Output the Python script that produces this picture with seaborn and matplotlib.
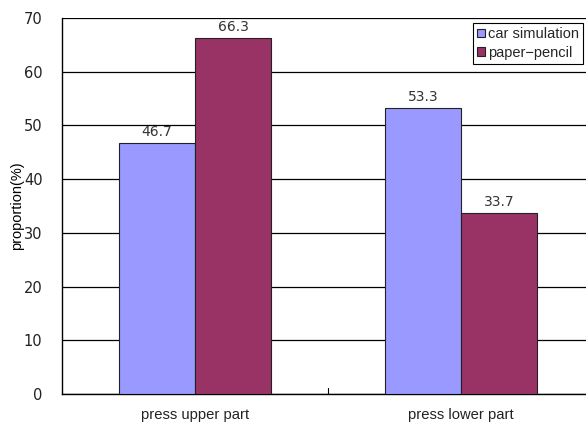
import matplotlib
matplotlib.use("Agg")
import matplotlib.pyplot as plt
import seaborn as sns
import pandas as pd

categories = ["press upper part", "press lower part"]
series = ["car simulation", "paper\u2212pencil"]
car_simulation = [46.7, 53.3]
paper_pencil = [66.3, 33.7]
yticks = [0, 10, 20, 30, 40, 50, 60, 70]

df = pd.DataFrame({
    "category": categories * 2,
    "group": [series[0]] * 2 + [series[1]] * 2,
    "value": car_simulation + paper_pencil,
})

sns.set_style("white")
plt.rcParams["font.family"] = ["Liberation Sans", "DejaVu Sans"]

fig = plt.figure(figsize=(5.86, 4.23), dpi=100)
ax = fig.add_axes([62 / 586, 29 / 423, 532 / 586, 376 / 423])

palette = ["#9999FF", "#993366"]
sns.barplot(data=df, x="category", y="value", hue="group", order=categories,
            hue_order=series, palette=palette, width=0.572, saturation=1,
            edgecolor="#222222", linewidth=0.8, ax=ax, zorder=3)

ax.set_ylim(0, 70)
ax.set_xlim(-0.5, 1.5)
ax.set_yticks(yticks)
ax.set_yticklabels([str(t) for t in yticks], fontsize=10.5, color="#222222",
                   family="DejaVu Sans")
ax.yaxis.grid(True, color="black", linewidth=0.9, zorder=0)
ax.xaxis.grid(False)
ax.tick_params(axis="y", length=0, pad=14)
ax.tick_params(axis="x", length=0, labelsize=10.6, pad=10, colors="#222222")

# separator tick between categories
ax.plot([0.5, 0.5], [0, 1.2], color="black", linewidth=0.8, zorder=4, clip_on=False)

for spine in ["top", "right"]:
    ax.spines[spine].set_visible(False)
for spine in ["left", "bottom"]:
    ax.spines[spine].set_color("black")
    ax.spines[spine].set_linewidth(1.0)

ax.set_xlabel("")
ax.set_ylabel("proportion(%)", fontsize=10.5, color="black")
ax.yaxis.set_label_coords(-38 / 532, 0.5)

for container in ax.containers:
    ax.bar_label(container, fmt="%.1f", padding=3, fontsize=10,
                 color="#333333", family="DejaVu Sans")

leg = ax.legend(loc="upper right", bbox_to_anchor=(521 / 532, 1 - 5 / 376),
                fontsize=10.5, frameon=True, fancybox=False, handlelength=0.5,
                handleheight=0.5, handletextpad=0.2, borderpad=0.3,
                labelspacing=0.3, borderaxespad=0.0)
leg.get_frame().set_edgecolor("black")
leg.get_frame().set_linewidth(0.8)
leg.get_frame().set_alpha(1)
for handle in leg.legend_handles:
    handle.set_edgecolor("#222222")
    handle.set_linewidth(0.8)

fig.savefig("out.png", dpi=100)
